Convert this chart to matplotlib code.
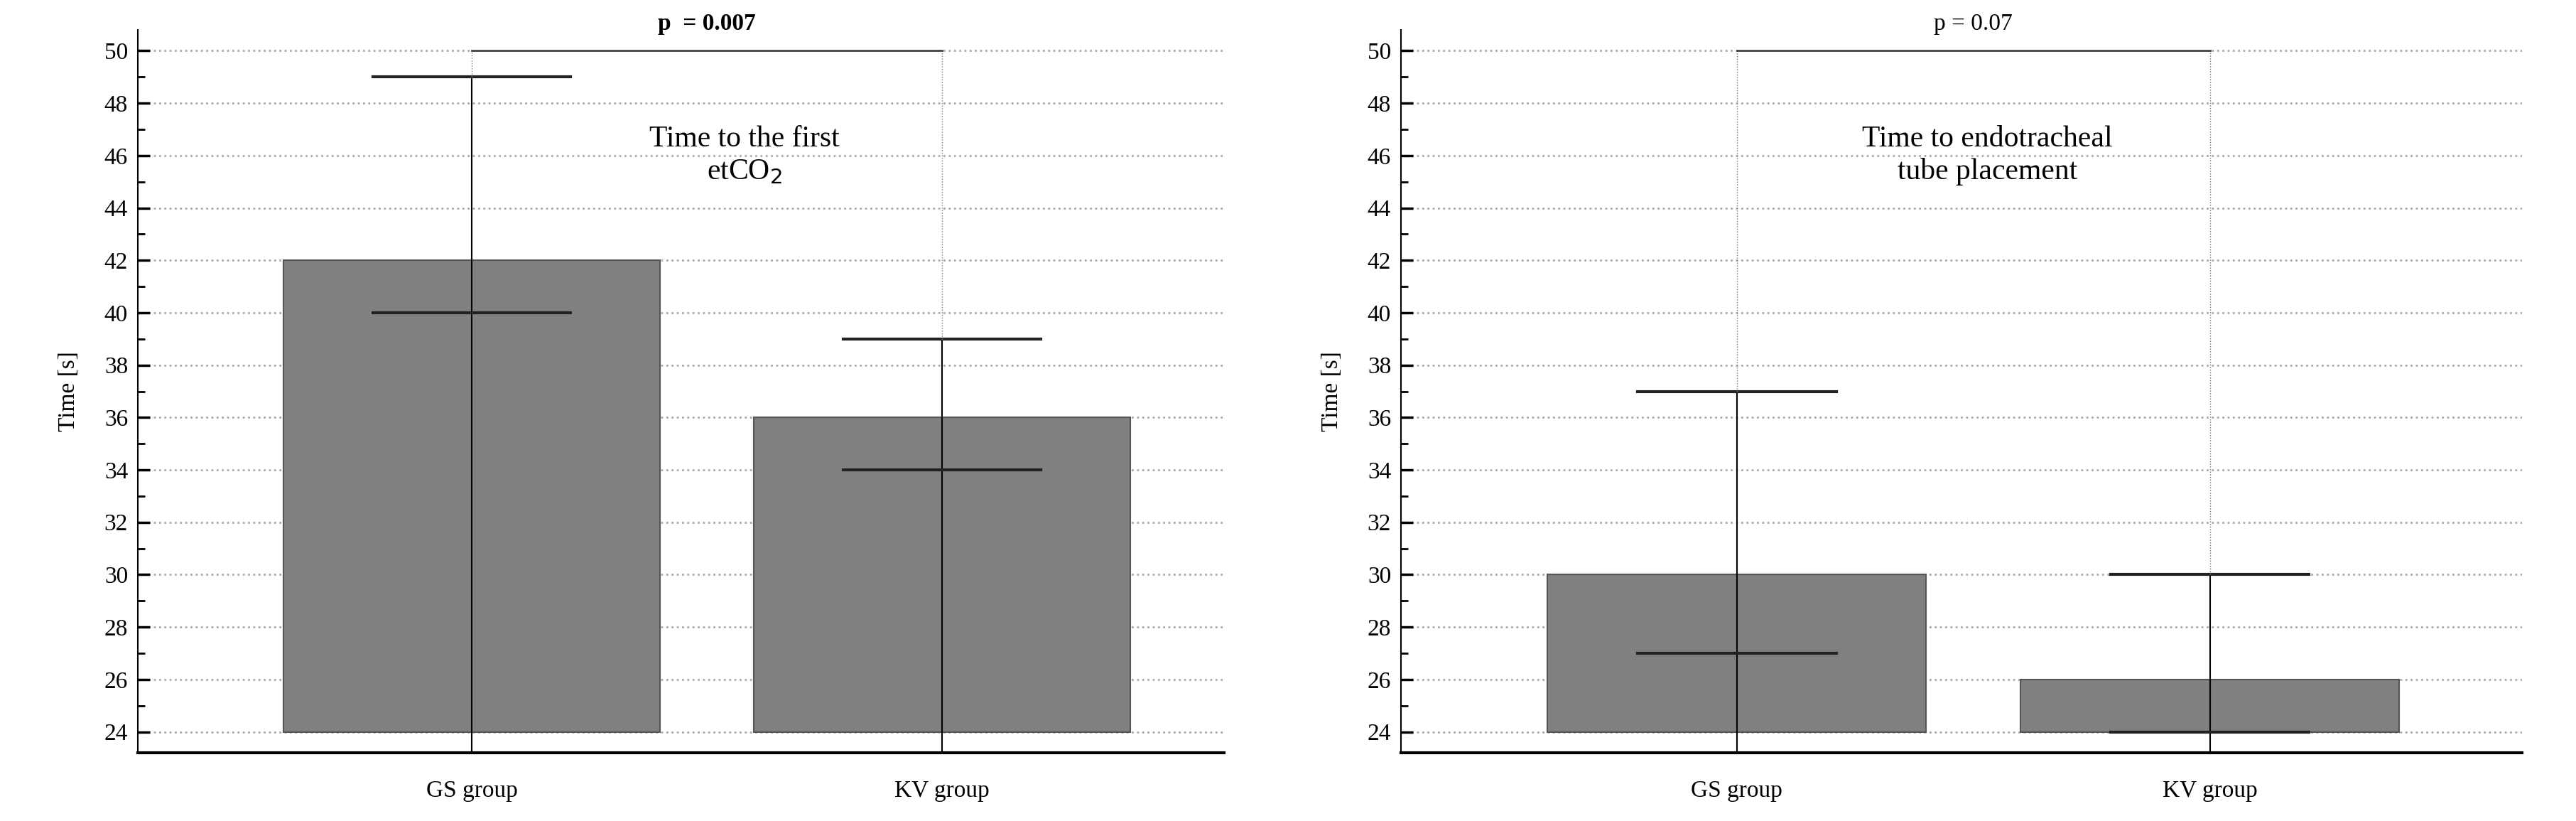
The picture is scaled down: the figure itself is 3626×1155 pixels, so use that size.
import matplotlib.pyplot as plt
from matplotlib.ticker import MultipleLocator

plt.rcParams['font.family'] = ['Liberation Serif', 'DejaVu Serif']

groups = ["GS group", "KV group"]
first_etco2 = [42, 36]
first_etco2_low = [40, 34]
first_etco2_high = [49, 39]
tube_time = [30, 26]
tube_low = [27, 24]
tube_high = [37, 30]
p_texts = ["p  = 0.007", "p = 0.07"]
panel_titles = ["Time to the first\netCO$_2$", "Time to endotracheal\ntube placement"]

fig = plt.figure(figsize=(36.26, 11.55), dpi=100)
axes = [fig.add_axes([194 / 3626, 96 / 1155, 1529 / 3626, 1017 / 1155]),
        fig.add_axes([1972 / 3626, 96 / 1155, 1578 / 3626, 1017 / 1155])]
xlims = [(-0.71, 1.60), (-0.71, 1.66)]
ymin, ymax = 23.2, 50.8

panels = [(first_etco2, first_etco2_low, first_etco2_high),
          (tube_time, tube_low, tube_high)]

for i, ax in enumerate(axes):
    vals, lows, highs = panels[i]
    x = list(range(len(groups)))
    ax.bar(x, [v - 24 for v in vals], bottom=24, width=0.8, color="#808080",
           edgecolor="#555555", linewidth=1.5, zorder=2)
    for xi, lo, hi in zip(x, lows, highs):
        ax.plot([xi, xi], [ymin, hi], color="black", lw=1.5, zorder=3)
        for cap in (lo, hi):
            ax.plot([xi - 0.21, xi + 0.21], [cap, cap], color="#222222", lw=3, zorder=3)
        # dotted drop line from bracket
        ax.plot([xi, xi], [hi, 50], color="#777777", lw=1, ls=":", zorder=3)
    ax.plot([0, 1], [50, 50], color="#444444", lw=2, zorder=3)
    ax.text(0.5, 50.6, p_texts[i], ha="center", va="bottom", fontsize=24,
            fontweight="bold" if i == 0 else "normal")
    tx = 0.58 if i == 0 else 0.53
    ax.text(tx, 46.0, panel_titles[i], ha="center", va="center", fontsize=30,
            linespacing=1.25)

    ax.set_xlim(*xlims[i])
    ax.set_ylim(ymin, ymax)
    ax.set_xticks(x)
    ax.set_xticklabels(groups, fontsize=24)
    ax.yaxis.set_major_locator(MultipleLocator(2))
    ax.yaxis.set_minor_locator(MultipleLocator(1))
    ax.set_yticks(range(24, 51, 2))
    ax.tick_params(axis="y", which="major", direction="in", length=12, width=2.5,
                   labelsize=24, pad=10)
    ax.tick_params(axis="y", which="minor", direction="in", length=7, width=2)
    ax.tick_params(axis="x", length=0, labelsize=24, pad=28)
    ax.grid(axis="y", which="major", ls=":", lw=2, color="#aaaaaa", zorder=0)
    ax.set_axisbelow(True)
    for s in ("top", "right"):
        ax.spines[s].set_visible(False)
    ax.spines["left"].set_linewidth(1.5)
    ax.spines["bottom"].set_linewidth(3)
    ax.set_ylabel("Time [s]", fontsize=24, labelpad=25)

fig.savefig("out.png", dpi=100)
